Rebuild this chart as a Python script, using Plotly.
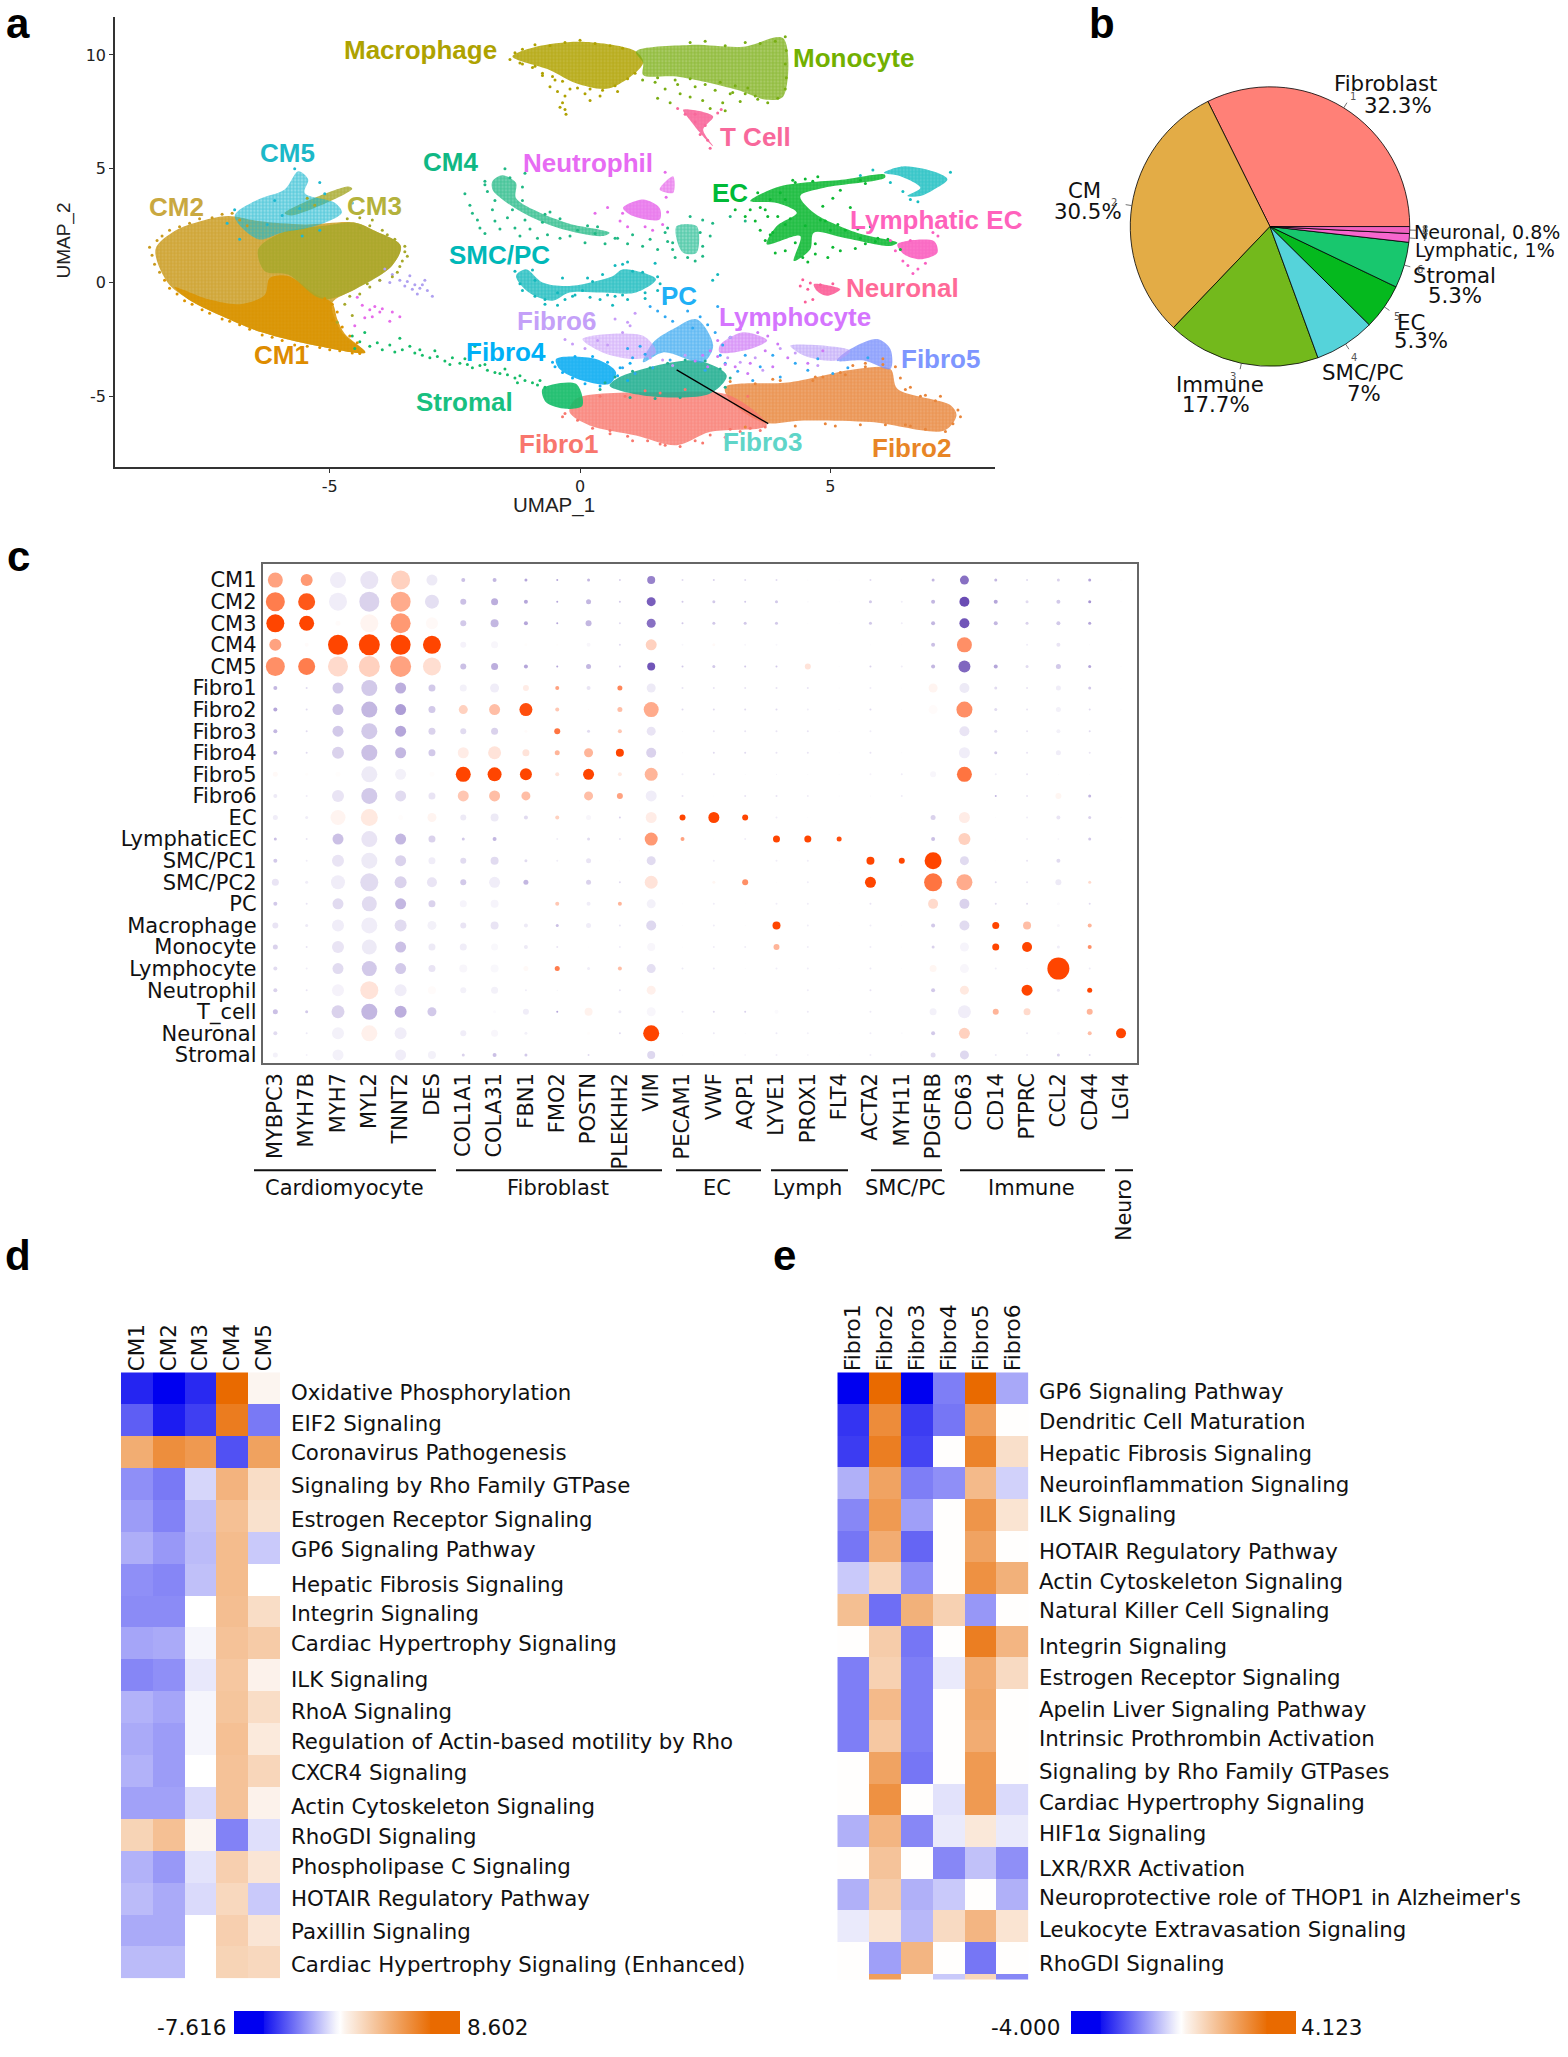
import math
import plotly.graph_objects as go

W, H = 1568, 2057
VERD = "DejaVu Sans"
HELV = "Liberation Sans"

# ---------- panel a: UMAP cluster outlines (UMAP units) ----------
CM2_OUTLINE = [(-8.48,1.46),(-8.10,2.26),(-7.57,2.70),(-7.03,2.92),(-6.43,2.7),(-5.5,2.55),(-4.49,2.63),(-4.09,2.26),(-3.58,1.61),(-3.76,0.73),(-4.49,-0.29),(-4.95,-0.9),(-4.76,-2.19),(-4.29,-3.07),(-5.29,-2.77),(-6.36,-2.19),(-7.17,-1.46),(-7.83,-0.73),(-8.24,0.0)]
CM1_OUTLINE = [(-8.1,-0.2),(-7.4,-0.75),(-6.8,-0.95),(-6.3,-0.55),(-6.2,0.2),(-5.83,0.29),(-5.29,-0.5),(-4.95,-0.9),(-4.85,-1.6),(-4.7,-2.25),(-4.29,-3.07),(-5.29,-2.77),(-6.36,-2.19),(-7.17,-1.46),(-7.83,-0.73)]
CM3_OUTLINE = [(-6.43,1.46),(-5.96,2.19),(-5.16,2.48),(-4.49,2.63),(-4.09,2.26),(-3.58,1.61),(-3.76,0.73),(-4.49,-0.29),(-5.03,-0.73),(-5.29,-0.6),(-5.83,0.35),(-6.30,0.5)]
CM3_SPIKE = [(-4.63,4.22),(-4.55,4.12),(-5.75,2.95),(-5.90,3.05)]
CM5_OUTLINE = [(-5.63,4.89),(-5.43,4.53),(-5.50,3.94),(-4.89,3.50),(-4.76,3.07),(-5.29,2.48),(-5.96,2.19),(-6.43,1.90),(-6.90,2.92),(-6.43,3.65),(-5.90,4.09)]
CM4_OUTLINE = [(-1.75,4.45),(-1.55,4.71),(-1.28,4.38),(-1.28,3.72),(-0.88,3.15),(-0.21,2.58),(0.59,2.19),(0.45,2.04),(-0.35,2.34),(-1.02,2.92),(-1.55,3.65),(-1.75,4.09)]
CM4B_OUTLINE = [(1.93,2.48),(2.33,2.48),(2.33,1.31),(2.06,1.31),(1.93,1.90)]
NEUT_OUTLINE = [(0.86,3.28),(1.26,3.65),(1.59,3.28),(1.59,2.77),(1.06,2.92)]
NEUTB_OUTLINE = [(1.59,4.09),(1.86,4.67),(1.86,3.94)]
EC_OUTLINE = [(3.40,3.58),(4.0,4.23),(5.29,4.53),(6.09,4.74),(6.09,4.60),(4.88,4.16),(4.40,3.80),(4.67,3.07),(5.53,2.19),(6.34,1.75),(6.20,1.61),(5.27,1.97),(4.67,2.19),(4.60,1.46),(4.27,0.95),(4.40,2.04),(3.73,1.68),(3.93,2.48),(4.33,3.07),(3.93,3.50)]
TEAL_OUTLINE = [(6.07,4.82),(6.47,5.11),(7.14,4.82),(7.34,4.53),(7.07,4.09),(6.80,3.80),(6.54,3.80),(6.80,4.16),(6.40,4.67)]
LYMEC_OUTLINE = [(6.34,1.68),(7.07,1.82),(7.14,1.31),(6.80,1.02),(6.47,1.24)]
NEURON_OUTLINE = [(4.67,-0.07),(5.2,-0.29),(4.93,-0.58),(4.73,-0.36)]
SMC_OUTLINE = [(-1.28,0.29),(-1.08,0.58),(-0.75,0.0),(-0.21,-0.15),(0.66,0.29),(0.86,0.58),(1.52,0.15),(1.12,-0.44),(0.45,-0.44),(-0.21,-0.44),(-0.55,-0.80),(-1.02,-0.44)]
MAC_OUTLINE = [(-1.35,9.93),(-0.88,10.36),(0.05,10.58),(1.12,10.15),(1.26,9.64),(0.59,8.54),(-0.08,8.76),(-0.61,9.34)]
MONO_OUTLINE = [(1.12,10.15),(2.19,10.44),(3.26,10.36),(4.06,10.73),(4.06,8.18),(3.73,8.03),(3.13,8.47),(1.93,9.05),(1.26,9.12),(1.26,9.64)]
TCELL_OUTLINE = [(2.06,7.59),(2.66,7.30),(2.46,6.72),(2.66,5.99),(2.46,6.42),(2.19,7.15)]
FIBRO2_OUTLINE = [(2.9,-4.6),(4.20,-4.38),(5.53,-3.80),(6.20,-3.80),(6.34,-4.67),(7.41,-5.40),(7.52,-5.84),(7.28,-6.50),(5.81,-6.13),(4.47,-6.06),(3.66,-6.15),(3.0,-5.2)]
FIBRO1_OUTLINE = [(-0.21,-5.69),(-0.08,-5.11),(1.79,-4.82),(2.99,-4.96),(3.73,-6.28),(2.59,-6.57),(1.93,-7.15),(1.12,-6.72),(0.19,-6.28)]
FIBRO3_OUTLINE = [(0.86,-4.09),(2.33,-3.43),(2.93,-4.09),(2.59,-4.89),(1.26,-4.96),(0.59,-4.53)]
STROMAL_OUTLINE = [(-0.75,-4.67),(-0.08,-4.45),(0.05,-5.40),(-0.28,-5.55),(-0.68,-5.26)]
FIBRO4_OUTLINE = [(-0.48,-3.36),(0.32,-3.36),(0.72,-3.94),(0.59,-4.45),(0.05,-4.31),(-0.41,-3.80)]
PC_OUTLINE = [(1.86,-2.04),(2.33,-1.61),(2.66,-2.77),(2.46,-3.50),(1.66,-3.07),(1.26,-3.50),(1.46,-2.63)]
FIBRO6_OUTLINE = [(0.05,-2.48),(1.26,-2.34),(1.52,-3.07),(1.12,-3.36),(0.45,-3.07)]
LYMPHO_OUTLINE = [(2.79,-2.77),(3.26,-2.19),(3.74,-2.55),(3.40,-2.92),(2.79,-3.07)]
FIBRO5_OUTLINE = [(5.40,-2.92),(5.94,-2.48),(6.20,-2.92),(6.20,-3.80),(5.67,-3.43),(5.13,-3.43)]
FIBRO5B_OUTLINE = [(4.20,-2.77),(5.40,-2.99),(5.13,-3.43),(4.47,-3.21)]

# stray cells
STROMAL_PTS = [(-4.55,-2.35),(-4.4,-2.6),(-4.2,-2.8),(-4.05,-2.65),(-3.95,-2.95),(-3.8,-2.75),(-3.7,-3.05),(-3.55,-2.95),(-3.3,-3.1),(-3.15,-3.2),(-3.0,-3.3),(-2.85,-3.25),(-2.7,-3.45),(-2.55,-3.3),(-2.4,-3.55),(-2.25,-3.6),(-2.15,-3.75),(-2.0,-3.65),(-1.85,-3.85),(-1.7,-3.95),(-1.6,-4.0),(-1.45,-4.05),(-1.3,-4.2),(-1.2,-4.1),(-1.1,-4.3),(-0.95,-4.4),(-0.85,-4.5),(-0.8,-4.3),(-0.7,-4.6),(-2.1,-2.8),(-3.6,-2.45),(-4.3,-2.2),(-4.5,-2.9),(-3.4,-2.8),(-2.9,-3.0),(-2.3,-3.35),(-1.9,-3.6),(-1.5,-3.8),(-1.25,-4.4),(-2.6,-3.6),(-3.2,-2.95)]
LILAC_PTS = [(-3.9,0.6),(-3.75,0.35),(-3.6,0.1),(-3.45,0.05),(-3.3,-0.1),(-3.2,-0.25),(-3.35,-0.3),(-3.15,-0.1),(-3.05,-0.35),(-2.95,-0.6),(-3.5,-0.15),(-3.8,0.0),(-4.0,0.1),(-3.25,-0.5),(-3.4,0.3),(-3.1,0.1)]
PINK_PTS = [(-4.45,-0.65),(-4.35,-1.0),(-4.2,-1.2),(-4.1,-1.05),(-4.0,-1.3),(-3.95,-1.15),(-4.15,-1.5),(-3.8,-1.7),(-4.5,-1.9),(-3.75,-1.3),(-4.3,-1.55),(-3.6,-1.5)]
MAC_PTS = [(-0.5,8.9),(-0.45,8.4),(-0.3,8.2),(-0.35,7.9),(-0.3,7.6),(-0.28,7.4),(-0.4,7.7),(-0.2,8.5),(0.1,8.3),(0.4,8.2),(0.75,8.4),(-0.75,9.1),(-0.9,9.5),(-1.15,9.6),(0.2,8.0),(-0.6,8.6),(-0.05,8.55),(-1.4,9.8),(-1.3,10.1),(-1.15,10.25),(-0.9,10.45),(-0.6,10.4),(-0.3,10.55),(0.0,10.65),(0.3,10.5),(0.6,10.4),(0.85,10.3),(-1.2,9.65),(-0.95,9.45),(-0.75,9.2),(-0.55,9.05),(-0.35,8.85),(0.2,8.5),(0.45,8.45),(0.7,8.65),(0.95,8.95),(1.1,9.2)]
MONO_PTS = [(1.5,8.8),(1.7,8.5),(1.55,8.1),(1.8,7.9),(2.0,8.3),(2.3,8.6),(2.45,8.0),(2.6,7.65),(2.85,7.9),(3.0,8.3),(3.2,7.95),(2.7,8.45),(3.5,8.2),(1.95,8.7),(2.2,8.15),(3.35,8.55),(1.25,8.9),(2.9,7.55),(3.1,8.65),(4.1,10.8),(3.9,10.6),(3.6,10.5),(3.3,10.55),(2.9,10.4),(2.5,10.6),(2.2,10.55),(4.12,10.2),(4.1,9.6),(4.12,9.0),(4.1,8.5),(3.95,8.1),(3.75,7.9),(3.55,8.05),(3.3,8.3),(3.05,8.35),(2.8,8.8),(2.5,8.7),(2.2,8.95),(1.9,8.9),(1.55,9.0)]
TCELL_PTS = [(1.95,7.65),(2.1,7.4),(2.3,7.05),(2.4,6.5),(2.55,6.25),(2.6,5.9),(2.3,7.4),(2.75,7.45),(2.5,6.9),(2.82,7.6)]
CM4_PTS = [(-2.3,3.9),(-2.2,3.4),(-2.15,3.05),(-2.05,2.75),(-2.0,2.4),(-1.9,2.15),(-1.75,3.2),(-1.7,2.7),(-1.6,2.35),(-1.45,2.85),(-1.3,2.4),(-1.2,2.05),(-1.0,2.35),(-0.85,1.95),(-0.65,2.1),(-0.4,1.95),(-0.2,2.05),(0.1,1.75),(0.35,2.45),(0.5,1.7),(0.75,1.95),(0.95,1.7),(1.05,2.1),(1.25,1.6),(1.4,1.9),(1.55,1.45),(1.7,2.2),(1.85,1.75),(1.9,1.1),(2.3,0.95),(2.45,2.75),(2.6,2.05),(2.65,2.6),(-1.5,5.0),(-1.1,4.8),(-1.9,4.3),(3.0,2.9),(3.3,2.7),(2.2,2.9),(-0.6,3.1),(-1.9,4.45),(-1.85,4.0),(-1.7,3.6),(-1.4,4.6),(-1.15,4.2),(-1.15,3.6),(-1.35,3.2),(-1.1,2.75),(-0.7,3.0),(-0.75,2.65),(-0.4,2.8),(-0.05,2.3),(0.15,2.5),(0.3,2.15),(0.7,1.95),(1.75,2.4),(2.4,2.2),(2.45,1.6),(1.85,1.45),(2.15,1.1),(1.75,1.8),(2.45,1.15)]
EC_PTS = [(3.1,3.2),(3.3,2.9),(3.5,2.7),(3.6,3.3),(3.75,2.9),(3.6,2.3),(3.8,2.1),(4.1,1.4),(3.9,1.3),(4.2,2.8),(4.95,1.1),(5.05,1.55),(5.2,1.4),(5.5,1.5),(5.7,1.7),(5.8,2.45),(5.95,1.95),(6.15,1.9),(4.9,2.7),(5.15,2.55),(5.05,3.7),(5.4,3.3),(5.2,4.05),(5.7,4.35),(4.5,4.55),(4.25,4.5),(4.75,4.65),(4.1,3.65),(3.4,3.2),(2.95,3.6),(4.55,0.9),(4.7,1.25),(5.3,2.3),(6.4,1.45),(3.55,3.95),(3.8,3.65),(4.0,3.95),(4.3,4.4),(3.95,2.9),(4.1,2.55),(3.85,2.2),(3.7,1.85),(4.5,2.5),(4.8,2.75),(5.0,2.3),(4.3,1.75),(4.45,1.1),(4.7,1.7),(5.6,1.95),(5.9,1.8),(5.55,2.35),(4.65,4.45),(5.6,4.5),(3.7,3.2),(4.85,3.35)]
SMC_PTS = [(-0.9,-0.6),(-0.7,-0.75),(-0.3,-0.75),(-0.1,-0.55),(0.2,-0.65),(0.4,-0.75),(0.7,-0.6),(0.95,-0.75),(1.3,-0.7),(0.7,0.75),(0.95,0.9),(1.05,0.5),(0.25,0.05),(-0.35,0.2),(1.55,-0.35),(0.65,-1.0),(2.65,0.1),(2.75,0.35),(1.5,0.85),(-0.45,-1.0),(1.7,-0.9),(-1.3,0.5),(-1.2,-0.05),(-1.15,-0.35),(-0.9,0.1),(-0.7,-0.95),(-0.45,-0.45),(-0.15,-0.6),(0.15,0.2),(0.45,0.35),(0.85,0.8),(1.25,0.45),(1.55,0.25),(1.6,-0.05),(1.3,-0.45),(0.85,-0.55),(0.55,-0.55),(-0.95,0.55),(0.05,-0.35)]
NEUT_PTS = [(0.85,3.05),(0.8,2.7),(1.3,2.45),(1.65,2.55),(1.45,2.3),(1.75,3.1),(0.95,2.45),(0.55,3.3),(0.3,3.05),(1.7,4.85),(1.72,3.75)]
LYMEC_PTS = [(6.2,1.85),(6.3,1.4),(6.45,0.95),(6.55,0.75),(6.65,0.4),(6.75,0.6),(7.15,2.05),(7.05,2.2),(6.9,0.85),(6.6,1.85)]
NEURON_PTS = [(4.45,0.12),(4.6,-0.02),(4.55,-0.3),(4.8,-0.1),(4.65,-0.75),(4.5,-0.85),(5.05,-0.05),(4.4,-0.15)]
BLUE_PTS = [(1.4,-1.05),(1.55,-1.25),(1.7,-1.5),(1.85,-1.7),(2.4,-1.5),(2.55,-1.85),(2.7,-2.2),(2.85,-2.75),(2.8,-3.2),(1.3,-3.15),(1.05,-3.3),(1.45,-3.75),(1.8,-3.4),(2.9,-3.55),(3.15,-3.9),(3.6,-3.7),(3.85,-3.2),(4.0,-4.15),(4.3,-3.55),(4.55,-3.85),(4.75,-3.35),(5.05,-4.0),(5.35,-3.75),(5.75,-3.3),(3.3,-3.2),(3.45,-4.3),(2.5,-3.85),(2.15,-1.25),(2.25,-2.0),(1.2,-2.8),(0.95,-2.9),(0.85,-3.75),(1.1,-4.0),(2.75,-1.05),(3.0,-2.4)]
LILAC2_PTS = [(0.1,-2.9),(-0.15,-2.7),(0.35,-2.55),(0.55,-2.75),(0.85,-2.2),(1.0,-1.9),(0.7,-1.6),(1.1,-1.35),(0.95,-1.75),(-0.3,-2.5),(1.65,-3.4),(1.85,-3.65),(2.1,-3.2),(1.4,-3.3),(3.0,-2.4),(3.2,-3.5),(3.5,-3.3),(4.0,-2.9),(4.3,-3.1),(4.75,-3.65),(3.65,-3.85),(2.95,-3.3)]
PURPLE_PTS = [(2.6,-3.0),(2.75,-3.25),(2.9,-3.6),(3.1,-3.7),(3.4,-3.55),(3.7,-3.0),(3.95,-2.7),(4.15,-3.3),(3.55,-2.2),(3.2,-2.05),(2.75,-2.55),(3.85,-3.7),(2.45,-3.2),(2.3,-3.45),(2.55,-3.7),(3.35,-4.0),(4.55,-3.55),(4.85,-3.0),(3.75,-2.35)]
ORANGE_PTS = [(5.7,-3.55),(6.05,-3.35),(5.45,-3.65),(4.85,-4.15),(3.0,-4.35),(3.85,-4.25),(7.2,-5.0),(6.9,-4.95),(6.6,-4.6),(6.5,-6.25),(4.3,-6.3),(5.1,-6.3),(3.3,-6.35),(4.65,-4.3),(5.3,-4.05),(7.55,-5.6),(7.6,-5.9),(7.45,-6.2),(7.3,-6.55),(6.9,-6.45),(6.6,-6.3),(7.1,-5.2),(6.8,-5.0),(6.5,-4.7),(6.4,-4.2),(6.3,-3.7),(6.05,-3.6),(5.7,-3.7),(5.2,-3.95),(4.7,-4.15),(4.0,-4.3),(3.5,-4.45),(4.9,-6.2),(5.6,-6.25),(6.1,-6.25)]
SALMON_PTS = [(3.6,-6.5),(3.2,-6.55),(2.9,-6.8),(2.45,-7.05),(1.6,-7.1),(1.05,-6.95),(0.6,-6.65),(-0.35,-5.9),(2.1,-4.7),(1.3,-4.75),(3.35,-5.0),(-0.3,-5.75),(-0.05,-6.05),(0.25,-6.4),(0.6,-6.5),(0.95,-6.75),(1.35,-6.95),(1.7,-7.15),(2.0,-7.2),(2.3,-6.95),(2.6,-6.7),(3.0,-6.45),(3.4,-6.4),(3.7,-6.35),(0.4,-5.0),(0.9,-5.0),(1.6,-4.85)]
TEAL2_PTS = [(6.2,4.4),(6.45,4.0),(6.6,3.65),(7.4,4.85),(5.85,4.95),(5.6,4.7),(6.75,3.55)]
CM5_PTS = [(-5.7,5.0),(-5.2,4.4),(-5.1,3.9),(-6.1,3.6),(-6.9,3.2),(-7.05,2.6),(-6.8,1.9),(-5.55,2.05),(-5.2,2.3),(-4.55,3.5),(-6.25,2.55),(-5.95,2.95),(-5.6,3.25)]
CM3_PTS = [(-4.4,2.85),(-4.2,2.5),(-3.85,2.1),(-3.5,1.35),(-3.55,0.95),(-3.65,0.45),(-4.25,-0.05),(-4.7,-0.95),(-4.55,-1.45),(-4.85,-1.75),(-4.65,2.8),(-5.3,3.4),(-5.45,3.7),(-3.95,2.3),(-3.7,1.9),(-3.5,1.6),(-3.45,1.15),(-3.6,0.7),(-3.75,0.25),(-4.0,0.1),(-4.2,-0.2),(-4.4,-0.5),(-4.6,-0.6),(-4.4,2.4),(-4.15,2.75)]
CM1_PTS = [(-8.3,0.1),(-8.2,-0.25),(-8.05,-0.5),(-7.9,-0.8),(-7.75,-0.95),(-7.55,-1.2),(-7.4,-1.35),(-7.15,-1.6),(-7.0,-1.7),(-6.8,-1.85),(-6.6,-2.05),(-6.35,-2.3),(-6.15,-2.4),(-5.95,-2.55),(-5.7,-2.75),(-5.45,-2.8),(-5.2,-2.85),(-5.0,-2.95),(-4.8,-3.0),(-4.55,-3.1),(-4.4,-3.12),(-4.75,-1.95),(-4.6,-2.35),(-4.45,-2.65),(-4.95,-1.65),(-4.85,-1.3),(-4.95,-0.95),(-5.1,-0.7)]
CM2_PTS = [(-8.55,1.2),(-8.6,1.55),(-8.45,1.85),(-8.35,2.05),(-8.2,2.3),(-8.0,2.45),(-7.8,2.6),(-7.6,2.8),(-7.35,2.85),(-7.15,3.0),(-6.95,3.05),(-6.8,2.75),(-6.65,2.5),(-8.5,0.8),(-8.4,0.45)]
FIBRO3_PTS = [(0.5,-4.4),(0.7,-4.15),(1.05,-3.9),(1.4,-3.75),(1.75,-3.55),(2.1,-3.4),(2.5,-3.45),(2.8,-3.8),(3.0,-4.2),(2.9,-4.6),(0.4,-4.7),(1.0,-5.05),(1.5,-5.1),(2.0,-5.05)]
FIBRO4_PTS = [(-0.55,-3.5),(-0.5,-3.7),(-0.35,-3.95),(-0.15,-4.2),(0.1,-4.45),(0.4,-4.55),(0.75,-4.1),(0.8,-3.75),(0.55,-3.5),(0.25,-3.25),(-0.1,-3.25),(0.95,-4.3),(1.0,-3.55)]

CLUSTER_NAMES = ["CM2","CM1","CM3","CM3 spike","CM5","CM4","CM4b","Neutrophil","Neutrophil b","EC","Lymphatic tip","Lymphatic EC","Neuronal","SMC/PC","Macrophage","Monocyte","T cell","Fibro2","Fibro1","Fibro3","Stromal","Fibro4","PC","Fibro6","Lymphocyte","Fibro5","Fibro5 band"]
CLUSTER_OUTLINES = [CM2_OUTLINE,CM1_OUTLINE,CM3_OUTLINE,CM3_SPIKE,CM5_OUTLINE,CM4_OUTLINE,CM4B_OUTLINE,NEUT_OUTLINE,NEUTB_OUTLINE,EC_OUTLINE,TEAL_OUTLINE,LYMEC_OUTLINE,NEURON_OUTLINE,SMC_OUTLINE,MAC_OUTLINE,MONO_OUTLINE,TCELL_OUTLINE,FIBRO2_OUTLINE,FIBRO1_OUTLINE,FIBRO3_OUTLINE,STROMAL_OUTLINE,FIBRO4_OUTLINE,PC_OUTLINE,FIBRO6_OUTLINE,LYMPHO_OUTLINE,FIBRO5_OUTLINE,FIBRO5B_OUTLINE]
CLUSTER_COLORS = ["#C99A1E","#DB9300","#A6A82A","#A6A82A","#1FB8D0","#1FB884","#20BA90","#E66BEA","#E66BEA","#0CB832","#17BDC0","#FA5FC0","#FB5E98","#12B8BC","#AFA100","#79AE14","#F8689B","#E8853A","#F8786E","#20AE90","#14BC68","#10AEF2","#3AA8F0","#C79CF8","#CE78F5","#7F94FB","#B79BF8"]
CLUSTER_BG = [.75,.8,.7,.7,.4,.6,.45,.75,.55,.8,.7,.85,.85,.65,.75,.6,.85,.7,.7,.8,.85,.85,.55,.35,.5,.7,.4]

STRAY_SETS = [STROMAL_PTS,LILAC_PTS,PINK_PTS,MAC_PTS,MONO_PTS,TCELL_PTS,CM4_PTS,EC_PTS,SMC_PTS,NEUT_PTS,LYMEC_PTS,NEURON_PTS,BLUE_PTS,LILAC2_PTS,PURPLE_PTS,ORANGE_PTS,SALMON_PTS,TEAL2_PTS,CM5_PTS,CM3_PTS,CM1_PTS,CM2_PTS,FIBRO3_PTS,FIBRO4_PTS]
STRAY_COLORS = ["#14BC68","#AFA0F0","#E66BEA","#AFA100","#79AE14","#F8689B","#1FB884","#0CB832","#12B8BC","#E66BEA","#FA5FC0","#FB5E98","#2FA8F2","#C79CF8","#CE78F5","#E8853A","#F8786E","#17BDC0","#1FB8D0","#A6A82A","#DB9300","#C99A1E","#20AE90","#10AEF2"]

UMAP_LINE_X = [1.93, 3.76]
UMAP_LINE_Y = [-3.84, -6.20]

UMAP_LABELS = ["Macrophage","Monocyte","T Cell","CM5","CM4","Neutrophil","EC","CM3","CM2","Lymphatic EC","SMC/PC","Neuronal","PC","Lymphocyte","Fibro6","Fibro4","CM1","Fibro5","Stromal","Fibro1","Fibro3","Fibro2"]
UMAP_LABEL_COLORS = ["#AEA200","#72B000","#F8689B","#1CB8C8","#10B884","#E76BF3","#00BA38","#B4B23C","#C9A840","#FF62BC","#00B8B8","#FF6A98","#1FB0F6","#D575FE","#C4A0F8","#00B0F6","#DE8C00","#7E96FF","#18C080","#F8766D","#5FD5C8","#E88526"]
UMAP_LABEL_PX = [(420,50),(853,58),(755,137),(287,153),(450,162),(588,163),(730,193),(374,206),(176,207),(936,220),(499,255),(902,289),(679,297),(795,318),(556,322),(506,353),(281,356),(940,360),(464,403),(558,445),(762,443),(911,449)]

# ---------- panel b ----------
PIE_LABELS = ["Fibroblast","CM","Immune","SMC/PC","EC","Stromal","Lymphatic","Neuronal"]
PIE_VALUES = [32.3,30.5,17.7,7,5.3,5.3,1,0.8]
PIE_COLORS = ["#FF8077","#E3AC46","#73B91C","#55D3DA","#05B91E","#18C76E","#F766CE","#F062C0"]

# ---------- panel c ----------
GENES = ["MYBPC3","MYH7B","MYH7","MYL2","TNNT2","DES","COL1A1","COLA31","FBN1","FMO2","POSTN","PLEKHH2","VIM","PECAM1","VWF","AQP1","LYVE1","PROX1","FLT4","ACTA2","MYH11","PDGFRB","CD63","CD14","PTPRC","CCL2","CD44","LGI4"]
CELLS = ["CM1","CM2","CM3","CM4","CM5","Fibro1","Fibro2","Fibro3","Fibro4","Fibro5","Fibro6","EC","LymphaticEC","SMC/PC1","SMC/PC2","PC","Macrophage","Monocyte","Lymphocyte","Neutrophil","T_cell","Neuronal","Stromal"]
DOT_PCT = [
[15,12,16,18,19,11,4,4,3,2,3,2,8,2,2,2,2,1,1,2,1,3,9,3,2,3,3,1],
[19,17,18,20,20,14,6,7,4,2,5,2,9,2,3,2,3,2,1,3,2,4,10,4,3,4,3,1],
[18,15,5,18,20,12,6,8,4,2,6,2,9,2,3,3,3,1,1,3,2,4,10,4,3,4,3,1],
[12,4,20,21,20,18,6,7,3,2,4,2,11,2,3,2,2,1,1,1,1,4,15,0,2,4,1,1],
[19,17,20,21,21,18,6,7,4,2,5,2,8,2,3,2,2,6,1,2,2,4,12,4,3,5,3,1],
[4,2,11,16,11,7,7,9,6,4,4,5,9,2,2,2,2,2,1,2,1,9,10,3,2,5,3,1],
[4,2,11,16,11,7,9,11,13,4,1,5,15,2,2,2,2,2,1,2,1,9,16,3,2,5,2,1],
[4,2,11,16,11,7,6,7,3,6,3,4,9,1,2,2,2,2,1,2,0,1,10,3,2,4,2,1],
[4,2,12,16,11,7,11,13,7,5,9,8,10,1,2,2,2,2,1,2,1,1,11,3,2,5,2,1],
[5,3,5,16,11,5,15,14,12,4,11,4,13,2,2,1,1,1,1,2,2,6,15,2,2,1,1,1],
[4,2,12,16,11,7,11,11,9,1,9,6,11,2,1,2,2,2,1,1,2,0,0,2,2,6,3,1],
[5,3,15,17,5,9,6,8,4,4,5,2,11,6,11,6,2,1,1,1,1,5,11,1,2,4,3,1],
[3,2,11,16,11,7,3,4,1,2,3,2,13,4,1,2,7,7,5,1,1,4,12,1,2,2,3,1],
[4,2,12,16,11,7,6,8,3,2,5,1,9,1,2,1,2,2,1,8,6,17,9,1,2,4,1,1],
[7,3,14,18,12,10,6,11,5,1,5,2,13,1,3,6,1,2,1,11,1,18,16,2,2,6,3,1],
[4,2,11,15,11,7,7,8,1,4,4,4,9,1,2,1,2,2,1,2,1,10,10,2,2,3,2,1],
[6,3,12,16,12,9,6,8,4,3,5,2,10,1,2,1,8,2,1,2,1,4,10,7,8,3,4,1],
[5,2,12,15,11,7,7,7,4,2,1,2,8,1,2,2,6,2,1,2,1,3,9,7,10,3,4,1],
[4,2,11,15,11,7,8,8,5,5,3,4,9,2,2,1,2,2,1,2,1,7,9,2,1,22,2,1],
[4,2,12,18,12,8,6,7,2,1,1,2,9,1,1,1,1,2,1,2,1,4,9,1,11,3,5,1],
[5,3,13,16,12,9,1,3,6,2,8,3,9,2,2,2,4,2,1,2,1,7,13,6,7,1,6,1],
[4,2,12,16,12,1,6,7,3,1,3,2,16,1,2,1,2,2,1,2,2,4,11,1,2,3,4,10],
[5,2,11,3,11,8,3,4,3,0,2,0,8,1,1,2,2,2,1,2,1,5,9,2,2,3,2,1],
]
DOT_EXPR = [
[.5,.55,-.1,-.15,.25,-.12,-.35,-.4,-.5,-.5,-.4,-.25,-.7,-.2,-.25,-.2,-.2,-.05,-.05,-.2,-.05,-.4,-.8,-.4,-.2,-.25,-.5,-.05],
[.7,.9,-.1,-.25,.45,-.18,-.35,-.45,-.5,-.5,-.4,-.3,-.9,-.3,-.3,-.3,-.3,-.03,-.05,-.3,-.1,-.4,-1,-.5,-.2,-.3,-.6,-.05],
[1,1,.02,.06,.55,.03,-.3,-.4,-.5,-.5,-.4,-.2,-.8,-.3,-.3,-.3,-.3,-.03,-.03,-.3,-.1,-.4,-.95,-.4,-.25,-.3,-.5,-.03],
[.5,.02,1,1,1,1,-.07,-.05,.01,.01,-.05,-.2,.25,-.05,.03,-.05,-.05,0,0,-.03,-.03,-.35,.6,0,-.1,-.15,-.05,-.03],
[.6,.7,.2,.25,.5,.18,-.35,-.45,-.5,-.5,-.4,-.25,-.95,-.3,-.3,-.3,-.3,.15,-.03,-.25,-.1,-.4,-.85,-.5,-.2,-.3,-.5,-.03],
[-.4,-.2,-.3,-.3,-.45,-.3,-.08,-.1,.1,.5,-.15,.65,-.12,-.15,-.15,-.15,-.15,-.15,-.05,-.1,-.03,.06,-.12,-.2,-.15,-.1,-.3,-.03],
[-.5,-.2,-.35,-.4,-.55,-.3,.25,.35,.95,.3,.03,.35,.45,-.2,-.2,-.2,-.2,-.1,-.05,-.2,-.03,.02,.6,-.2,-.15,-.08,-.2,-.03],
[-.4,-.2,-.3,-.3,-.5,-.25,-.2,-.25,.02,.75,-.2,.3,-.15,-.05,-.15,-.15,-.15,-.15,-.05,-.1,0,0,-.15,-.2,-.15,-.08,-.2,-.03],
[-.4,-.2,-.25,-.35,-.4,-.3,.1,.15,.15,.4,.4,1,-.25,-.05,-.2,-.2,-.15,-.15,-.05,-.15,-.05,-.01,-.1,-.3,-.15,-.1,-.15,-.03],
[.03,.01,.01,-.12,-.08,.01,1,1,1,.15,1,.12,.4,-.1,-.15,-.05,-.1,-.05,-.03,-.07,-.1,-.05,.75,-.1,-.15,-.03,-.03,-.03],
[-.12,-.1,-.15,-.3,-.2,-.15,.3,.35,.35,.01,.35,.5,-.1,-.15,-.03,-.15,-.15,-.1,-.05,-.05,-.1,0,0,-.4,-.15,.05,-.4,-.03],
[-.1,-.1,.06,.12,.01,.06,-.12,-.12,-.2,.25,-.05,-.25,.1,1,1,1,-.1,-.03,-.01,-.01,-.01,-.25,.1,-.03,-.1,-.15,-.25,-.03],
[-.35,-.15,-.35,-.15,-.4,-.25,-.3,-.4,.01,-.1,-.2,-.15,.55,.5,-.02,-.1,1,1,.95,-.01,-.01,-.35,.25,.01,-.1,-.05,-.3,-.03],
[-.3,-.1,-.15,-.12,-.25,-.1,-.2,-.2,-.2,-.1,-.15,-.05,-.2,-.03,-.1,-.03,-.1,-.1,-.03,1,1,1,-.2,-.03,-.15,-.2,-.01,-.02],
[-.15,-.1,-.1,-.2,-.25,-.15,-.3,-.1,-.4,.01,-.25,-.2,.15,.01,.05,.6,-.02,-.1,-.02,1,-.02,.75,.45,-.2,-.15,-.12,.2,-.02],
[-.3,-.15,-.2,-.2,-.4,-.25,-.06,-.06,0,.3,-.1,.4,-.08,-.03,-.1,-.02,-.1,-.1,-.03,-.15,-.02,.2,-.25,-.2,-.2,-.03,-.2,-.02],
[-.15,-.12,-.1,-.1,-.2,-.08,-.15,-.15,-.12,-.35,-.1,-.15,-.22,-.03,-.1,-.03,1,-.1,-.03,-.1,-.03,-.3,-.2,1,.35,-.05,.4,-.02],
[-.25,-.15,-.15,-.12,-.35,-.12,-.1,-.04,-.12,-.15,-.02,-.1,-.05,-.03,-.1,-.1,.4,-.1,-.03,-.1,-.03,-.25,-.06,1,1,-.1,.6,-.02],
[-.2,-.1,-.2,-.3,-.3,-.15,-.05,-.04,.03,.7,-.1,.35,-.18,-.12,-.12,-.04,-.1,-.1,-.04,-.12,-.03,.05,-.05,-.1,-.05,1,-.12,-.02],
[-.25,-.15,-.07,.15,-.1,.02,-.08,-.08,-.1,-.1,0,-.15,.08,.01,-.01,.01,0,-.1,-.02,-.15,0,-.3,.12,0,1,-.12,1,-.02],
[-.35,-.3,-.25,-.4,-.45,-.3,-.02,-.02,-.1,-.5,.07,-.12,-.05,-.12,-.2,-.25,-.03,-.12,-.02,-.12,-.02,-.08,-.1,.4,.2,0,.4,-.02],
[-.2,-.12,-.08,.08,-.1,0,-.1,-.05,-.08,.01,.01,-.2,1,-.1,-.12,-.05,-.12,-.08,-.02,-.1,-.03,-.3,.25,0,-.12,-.03,.35,1],
[-.08,-.07,-.08,0,-.1,-.08,-.25,-.35,-.3,0,-.2,0,-.22,-.03,-.03,-.05,-.1,-.05,-.03,-.1,-.03,-.2,-.22,-.12,-.12,-.25,-.2,-.02],
]
GENE_GROUPS = ["Cardiomyocyte","Fibroblast","EC","Lymph","SMC/PC","Immune"]

# ---------- panel d ----------
D_COLS = ["CM1","CM2","CM3","CM4","CM5"]
D_ROWS = ["Oxidative Phosphorylation","EIF2 Signaling","Coronavirus Pathogenesis","Signaling by Rho Family GTPase","Estrogen Receptor Signaling","GP6 Signaling Pathway","Hepatic Fibrosis Signaling","Integrin Signaling","Cardiac Hypertrophy Signaling","ILK Signaling","RhoA Signaling","Regulation of Actin-based motility by Rho","CXCR4 Signaling","Actin Cytoskeleton Signaling","RhoGDI Signaling","Phospholipase C Signaling","HOTAIR Regulatory Pathway","Paxillin Signaling","Cardiac Hypertrophy Signaling (Enhanced)"]
D_Z = [
[-5.0,-7.6,-4.9,8.6,0.3],[-3.7,-5.2,-4.4,5.8,-3.1],[3.6,5.0,4.5,-4.0,4.1],[-2.6,-3.1,-1.0,3.3,1.4],
[-2.3,-2.9,-1.5,2.7,1.2],[-1.9,-2.4,-1.6,2.9,-1.3],[-2.6,-2.8,-1.5,2.9,0],[-2.7,-2.7,0,2.8,1.4],
[-2.1,-2.0,-0.3,2.6,2.2],[-2.8,-2.6,-0.6,2.4,0.4],[-1.8,-2.1,-0.3,2.5,1.4],[-2.0,-2.3,-0.3,2.7,0.8],
[-1.8,-2.3,0,2.6,1.7],[-2.2,-2.2,-0.9,2.6,0.4],[1.8,2.7,0.3,-2.9,-0.8],[-1.8,-2.4,-0.7,2.0,1.0],
[-1.6,-2.0,-0.9,1.6,-1.3],[-2.0,-2.0,0,2.0,1.0],[-1.6,-1.6,0,1.8,1.6]]
D_LABEL_PY = [1392.6,1423.4,1452.3,1485.2,1519.2,1549.5,1584.5,1613.4,1643.7,1679.7,1711.6,1741.5,1773.4,1807.4,1836.7,1867.6,1899.5,1932.4,1965.4]

# ---------- panel e ----------
E_COLS = ["Fibro1","Fibro2","Fibro3","Fibro4","Fibro5","Fibro6"]
E_ROWS = ["GP6 Signaling Pathway","Dendritic Cell Maturation","Hepatic Fibrosis Signaling","Neuroinflammation Signaling","ILK Signaling","HOTAIR Regulatory Pathway","Actin Cytoskeleton Signaling","Natural Killer Cell Signaling","Integrin Signaling","Estrogen Receptor Signaling","Apelin Liver Signaling Pathway","Intrinsic Prothrombin Activation","Signaling by Rho Family GTPases","Cardiac Hypertrophy Signaling","HIF1α Signaling","LXR/RXR Activation","Neuroprotective role of THOP1 in Alzheimer's","Leukocyte Extravasation Signaling","RhoGDI Signaling"]
E_Z = [
[-3,3.1,-3,-1.6,3.1,-1.1],[-2.5,2.4,-2.4,-1.7,2.0,0],[-2.4,2.7,-2.3,0,2.6,0.6],[-1.0,1.9,-1.6,-1.4,1.4,-.6],
[-1.5,2.1,-1.2,0,2.2,.5],[-1.7,1.7,-1.9,0,1.9,0],[-.7,.8,-1.4,0,2.3,1.6],[1.3,-1.8,1.6,.9,-1.3,0],
[0,1.0,-1.7,0,2.7,1.5],[-1.6,.9,-1.6,-.3,1.7,.7],[-1.6,1.4,-1.6,0,1.8,0],[-1.6,1.1,-1.6,0,1.7,0],
[0,1.9,-1.7,0,2.1,0],[0,2.3,0,-.4,2.1,-.5],[-1.0,1.5,-1.5,-.3,.4,-.3],[0,1.2,0,-1.5,-.8,-1.4],
[-1.0,1.0,-1.0,-.7,0,-1.0],[-.3,.5,-.9,.7,1.5,.5],[0,-1.2,1.5,0,-1.7,0],[0,2.0,0,-.7,.8,-1.5]]
E_LABEL_PY = [1391.5,1421.4,1453.3,1484.7,1514.5,1551.6,1582,1610.8,1646.8,1677.7,1709.6,1738.4,1772.4,1802.8,1834.1,1869.6,1898.5,1930.4,1964.4]


def dom_x(a, b):
    return [a / W, b / W]

def dom_y(top, bottom):
    return [1 - bottom / H, 1 - top / H]

annotations, shapes = [], []

def txt(px, py, text, size, color="#111", anchor="center", family=VERD, angle=0):
    annotations.append(dict(x=px / W, y=1 - py / H, xref="paper", yref="paper", text=text, showarrow=False,
                            font=dict(size=size, color=color, family=family), xanchor=anchor, yanchor="middle",
                            textangle=angle, borderpad=0, borderwidth=0))

def hline(x0, x1, y, width=2, color="#111"):
    shapes.append(dict(type="line", xref="paper", yref="paper", x0=x0 / W, x1=x1 / W, y0=1 - y / H, y1=1 - y / H,
                       line=dict(color=color, width=width)))

def rgba(hexc, a):
    h = hexc.lstrip("#")
    return f"rgba({int(h[:2],16)},{int(h[2:4],16)},{int(h[4:],16)},{a})"

fig = go.Figure()

# ---- panel a
for name, outline, color, bg in zip(CLUSTER_NAMES, CLUSTER_OUTLINES, CLUSTER_COLORS, CLUSTER_BG):
    xs = [p[0] for p in outline] + [outline[0][0]]
    ys = [p[1] for p in outline] + [outline[0][1]]
    fig.add_trace(go.Scatter(x=xs, y=ys, mode="lines", line=dict(width=0, shape="spline", smoothing=.9),
                             fill="toself", name=name, showlegend=False, hoverinfo="skip",
                             fillcolor=rgba(color, bg),
                             fillpattern=dict(shape=".", size=3.4, solidity=.7, fgcolor=color, bgcolor=rgba(color, bg)),
                             xaxis="x", yaxis="y"))
for pts, color in zip(STRAY_SETS, STRAY_COLORS):
    fig.add_trace(go.Scatter(x=[p[0] for p in pts], y=[p[1] for p in pts], mode="markers", showlegend=False,
                             marker=dict(size=3, color=color), xaxis="x", yaxis="y"))
fig.add_trace(go.Scatter(x=UMAP_LINE_X, y=UMAP_LINE_Y, mode="lines", line=dict(color="#000", width=1.3), showlegend=False,
                         xaxis="x", yaxis="y"))
for lab, col, (px, py) in zip(UMAP_LABELS, UMAP_LABEL_COLORS, UMAP_LABEL_PX):
    txt(px, py, f"<b>{lab}</b>", 26, col, family=HELV)

# ---- panel b
pie_total = sum(PIE_VALUES)
fig.add_trace(go.Pie(labels=PIE_LABELS, values=PIE_VALUES, sort=False, direction="counterclockwise",
                     rotation=(90 - 360 * PIE_VALUES[0] / pie_total) % 360,
                     textinfo="none", showlegend=False, hole=0,
                     marker=dict(colors=PIE_COLORS, line=dict(color="#000", width=.8)),
                     domain=dict(x=dom_x(1130, 1410), y=dom_y(87, 367))))
PIE_CX, PIE_CY, PIE_R = 1270, 227, 140
cum = 0
for i, v in enumerate(PIE_VALUES):
    ang = (cum + v / 2) / pie_total * 2 * math.pi
    cum += v
    shapes.append(dict(type="line", xref="paper", yref="paper",
                       x0=(PIE_CX + PIE_R * math.cos(ang)) / W, y0=1 - (PIE_CY - PIE_R * math.sin(ang)) / H,
                       x1=(PIE_CX + (PIE_R + 6) * math.cos(ang)) / W, y1=1 - (PIE_CY - (PIE_R + 6) * math.sin(ang)) / H,
                       line=dict(color="#333", width=.7)))
PIE_TEXT = [("Fibroblast",1385,84),("32.3%",1398,106),("CM",1084,191),("30.5%",1088,212),("Stromal",1454,276),("5.3%",1455,296),
            ("EC",1411,323),("5.3%",1421,341),("SMC/PC",1363,373),("7%",1364,394),("Immune",1220,385),("17.7%",1216,405)]
for t, x, y in PIE_TEXT:
    txt(x, y, t, 21.3)
txt(1414, 232, "Neuronal, 0.8%", 19, anchor="left")
txt(1415, 250, "Lymphatic, 1%", 19, anchor="left")
PIE_NUMS = [("1",1353,97),("2",1114,203),("3",1233,377),("4",1354,358),("5",1397,317),("6",1420,270),("7",1425,238),("8",1425,230)]
for t, x, y in PIE_NUMS:
    txt(x, y, t, 10, "#555")

# ---- panel c
dx, dy, ds, dc = [], [], [], []
for i, cell in enumerate(CELLS):
    for j, gene in enumerate(GENES):
        dx.append(gene); dy.append(cell); ds.append(DOT_PCT[i][j]); dc.append(DOT_EXPR[i][j])
fig.add_trace(go.Scatter(x=dx, y=dy, mode="markers", showlegend=False, xaxis="x2", yaxis="y2",
                         marker=dict(size=ds, sizemode="diameter", color=dc, cmin=-1, cmax=1, opacity=1, line=dict(width=0),
                                     colorscale=[[0, "#6A4CB4"], [.5, "#FFFFFF"], [1, "#FF4500"]])))
for x0, x1 in [(254,436),(456,662),(676,761),(771,848),(871,942),(960,1105),(1115,1133)]:
    hline(x0, x1, 1172.5, 2)
for g, x in zip(GENE_GROUPS, [344,558,717,808,905,1031]):
    txt(x, 1190, g, 21)
txt(1124, 1213, "Neuro", 20.5, angle=-90)

# ---- panels d, e
def diverging(neutral):
    return [[0, "#0000F0"], [.13, "#0000F0"], [.135, "#1212F0"], [neutral - .02, "#F4F4FC"], [neutral, "#FFFFFF"],
            [neutral + .02, "#FCF4EE"], [.865, "#E96F08"], [.87, "#E96A00"], [1, "#E96A00"]]

def cbar(x0, x1):
    return dict(orientation="h", x=x0 / W, xanchor="left", y=1 - 2038 / H, yanchor="bottom", len=x1 - x0, lenmode="pixels",
                thickness=23, thicknessmode="pixels", outlinewidth=0, ticks="", showticklabels=False, xpad=0, ypad=0)

fig.add_trace(go.Heatmap(z=D_Z, x=D_COLS, y=list(range(len(D_ROWS))), zmin=-7.616, zmax=8.602, colorscale=diverging(.47),
                         colorbar=cbar(233.6, 459.5), xaxis="x3", yaxis="y3"))
fig.add_trace(go.Heatmap(z=E_Z, x=E_COLS, y=list(range(len(E_Z))), zmin=-4.0, zmax=4.123, colorscale=diverging(.49),
                         colorbar=cbar(1070.7, 1295.8), xaxis="x4", yaxis="y4"))
for x in [264, 429, 1100, 1267.5]:
    shapes.append(dict(type="line", xref="paper", yref="paper", x0=x / W, x1=x / W, y0=1 - 2038 / H, y1=1 - 2015 / H,
                       line=dict(color="#888", width=2)))
for r, y in zip(D_ROWS, D_LABEL_PY):
    txt(291, y + 3, r, 21.3, anchor="left")
for r, y in zip(E_ROWS, E_LABEL_PY):
    txt(1039, y + 3, r, 21.3, anchor="left")
txt(226, 2031, "-7.616", 21.5, anchor="right")
txt(467, 2031, "8.602", 21.5, anchor="left")
txt(1060, 2031, "-4.000", 21.5, anchor="right")
txt(1301, 2031, "4.123", 21.5, anchor="left")

# ---- axis titles, panel letters
txt(554, 506, "UMAP_1", 20.5, "#222", family=HELV)
txt(64, 241, "UMAP_2", 19, "#222", family=HELV, angle=-90)
for t, x, y in [("a",18,24),("b",1102,24),("c",18,558),("d",18,1258),("e",784,1258)]:
    txt(x, y, f"<b>{t}</b>", 42, "#000", family=HELV)

plain = dict(showgrid=False, zeroline=False)
fig.update_layout(
    width=W, height=H, margin=dict(l=0, r=0, t=0, b=0), paper_bgcolor="white", plot_bgcolor="white", showlegend=False,
    annotations=annotations, shapes=shapes,
    xaxis=dict(domain=dom_x(115, 995), range=[-9.29, 8.29], tickvals=[-5, 0, 5], ticktext=["-5", "0", "5"], showline=True,
               linecolor="#333", linewidth=1.5, ticks="outside", ticklen=4, tickcolor="#333", anchor="y",
               tickfont=dict(size=16, family=VERD, color="#222"), **plain),
    yaxis=dict(domain=dom_y(17, 468), range=[-8.11, 11.67], tickvals=[-5, 0, 5, 10], ticktext=["-5", "0", "5", "10"], showline=True,
               linecolor="#333", linewidth=1.5, ticks="outside", ticklen=4, tickcolor="#333", anchor="x",
               tickfont=dict(size=16, family=VERD, color="#222"), **plain),
    xaxis2=dict(domain=dom_x(262.5, 1137), range=[-0.41, 27.51], type="category", categoryorder="array", categoryarray=GENES,
                tickmode="array", tickvals=GENES, ticktext=GENES, tickangle=-90, tickfont=dict(size=21, family=VERD, color="#111"),
                showline=True, mirror=True, linecolor="#666", linewidth=1.5, ticks="", anchor="y2", **plain),
    yaxis2=dict(domain=dom_y(565, 1065), range=[22.37, -0.75], type="category", categoryorder="array", categoryarray=CELLS,
                tickmode="array", tickvals=CELLS, ticktext=CELLS, tickfont=dict(size=21, family=VERD, color="#111"),
                showline=True, mirror=True, linecolor="#666", linewidth=1.5, ticks="", anchor="x2", **plain),
    xaxis3=dict(domain=dom_x(121, 280), side="top", tickangle=-90, tickfont=dict(size=21.5, family=VERD, color="#111"), ticks="",
                anchor="y3", **plain),
    yaxis3=dict(domain=dom_y(1375, 1982), range=[18.5, -0.5], showticklabels=False, ticks="", anchor="x3", **plain),
    xaxis4=dict(domain=dom_x(837.3, 1028.4), side="top", tickangle=-90, tickfont=dict(size=22, family=VERD, color="#111"), ticks="",
                anchor="y4", **plain),
    yaxis4=dict(domain=dom_y(1375, 1983.4), range=[18.7, -0.5], showticklabels=False, ticks="", anchor="x4", **plain),
)
fig.write_html("out.html", post_script="document.body.style.margin='0';", config=dict(displayModeBar=False))
